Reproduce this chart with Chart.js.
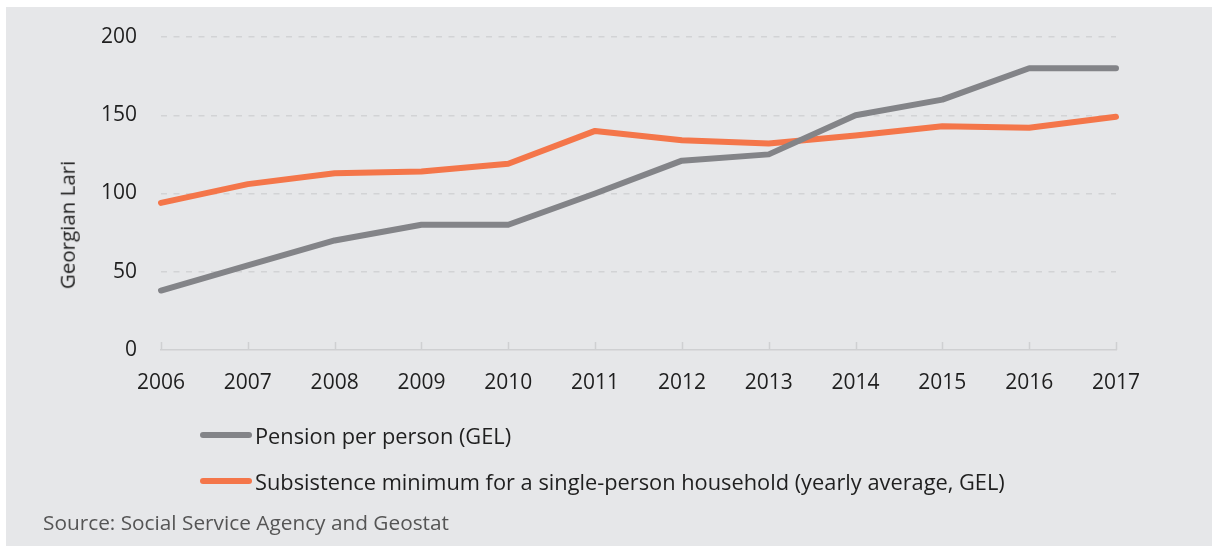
<!DOCTYPE html>
<html>
<head>
<meta charset="utf-8">
<title>Pension vs subsistence minimum</title>
<script src="https://cdn.jsdelivr.net/npm/chart.js@4.4.1/dist/chart.umd.min.js"></script>
<style>
  html, body { margin: 0; padding: 0; background: #ffffff; }
  #wrap { position: relative; width: 1212px; height: 546px; overflow: hidden; }
  #panel { position: absolute; left: 6px; top: 7px; right: 0; bottom: 0; background: #e6e7e9; }
  #chart { position: absolute; left: 0; top: 0; }
  #ytitle { position: absolute; left: 67px; top: 225px; transform: translate(-50%, -50%) rotate(-90deg);
            font-family: "Open Sans", sans-serif; font-size: 20.5px; color: #1f1f1f; white-space: nowrap; line-height: 1; }
  #legend { position: absolute; left: 200px; top: 420px; font-family: "Open Sans", sans-serif; font-size: 21.8px; color: #1f1f1f; }
  .item { display: flex; align-items: center; height: 30px; margin-bottom: 16px; white-space: nowrap; }
  .swatch { width: 52px; height: 6px; border-radius: 3px; margin-right: 3px; flex: none; }
  #source { position: absolute; left: 43px; top: 508px; font-family: "Open Sans", sans-serif; font-size: 20.8px; color: #555555; white-space: nowrap; }
</style>
</head>
<body>
<div id="wrap">
  <div id="panel"></div>
  <canvas id="chart" width="1212" height="546"></canvas>
  <div id="ytitle">Georgian Lari</div>
  <div id="legend"></div>
  <div id="source">Source: Social Service Agency and Geostat</div>
</div>
<script>
// Years on the horizontal axis
const years = ['2006', '2007', '2008', '2009', '2010', '2011', '2012', '2013', '2014', '2015', '2016', '2017'];

// Average pension per person, GEL
const pension = [38, 54, 70, 80, 80, 100, 121, 125, 150, 160, 180, 180];

// Subsistence minimum for a single-person household, yearly average, GEL
const subsistence = [94, 106, 113, 114, 119, 140, 134, 132, 137, 143, 142, 149];

const seriesNames = [
  'Pension per person (GEL)',
  'Subsistence minimum for a single-person household (yearly average, GEL)'
];

const yTicks = [0, 50, 100, 150, 200];

const GREY = '#838488';
const ORANGE = '#f4764a';
const FONT = '"Open Sans", sans-serif';

// Short tick marks that point up from the category axis
const upTicks = {
  id: 'upTicks',
  afterDatasetsDraw(chart) {
    const x = chart.scales.x;
    const ctx = chart.ctx;
    ctx.save();
    ctx.strokeStyle = '#cfd0d2';
    ctx.lineWidth = 1.5;
    ctx.beginPath();
    for (let i = 0; i < years.length; i++) {
      const px = Math.round(x.getPixelForTick(i)) + 0.5;
      ctx.moveTo(px, x.top - 8);
      ctx.lineTo(px, x.top);
    }
    ctx.stroke();
    ctx.restore();
  }
};

const chart = new Chart(document.getElementById('chart'), {
  type: 'line',
  data: {
    labels: years,
    datasets: [
      {
        label: seriesNames[0],
        data: pension,
        borderColor: GREY,
        backgroundColor: GREY,
        borderWidth: 6,
        borderCapStyle: 'round',
        borderJoinStyle: 'round',
        pointRadius: 0,
        tension: 0
      },
      {
        label: seriesNames[1],
        data: subsistence,
        borderColor: ORANGE,
        backgroundColor: ORANGE,
        borderWidth: 6,
        borderCapStyle: 'round',
        borderJoinStyle: 'round',
        pointRadius: 0,
        tension: 0
      }
    ]
  },
  options: {
    responsive: false,
    animation: false,
    devicePixelRatio: 1,
    layout: { padding: { left: 47, right: 96, top: 37, bottom: 136 } },
    plugins: {
      legend: { display: false },
      tooltip: { enabled: false }
    },
    scales: {
      x: {
        offset: false,
        grid: { display: false, drawTicks: false },
        border: { display: true, color: '#cfd0d2', width: 1.5 },
        ticks: {
          color: '#1f1f1f',
          font: { family: FONT, size: 21 },
          padding: 20,
          maxRotation: 0,
          autoSkip: false
        },
        afterFit(scale) { scale.height = 60; }
      },
      y: {
        min: 0,
        max: 200,
        afterBuildTicks(scale) { scale.ticks = yTicks.map(v => ({ value: v })); },
        grid: {
          drawTicks: false,
          lineWidth: 1.5,
          color: ctx => (ctx.tick && ctx.tick.value === 0) ? 'rgba(0,0,0,0)' : '#d2d3d5'
        },
        border: { display: false, dash: [6, 6.5] },
        ticks: {
          color: '#1f1f1f',
          font: { family: FONT, size: 21 },
          padding: 24
        },
        afterFit(scale) { scale.width = 114; }
      }
    }
  },
  plugins: [upTicks]
});

// Legend rows built from the chart's own datasets
const legendEl = document.getElementById('legend');
chart.data.datasets.forEach(ds => {
  const row = document.createElement('div');
  row.className = 'item';
  const sw = document.createElement('span');
  sw.className = 'swatch';
  sw.style.background = ds.borderColor;
  const txt = document.createElement('span');
  txt.textContent = ds.label;
  row.appendChild(sw);
  row.appendChild(txt);
  legendEl.appendChild(row);
});
</script>
</body>
</html>
